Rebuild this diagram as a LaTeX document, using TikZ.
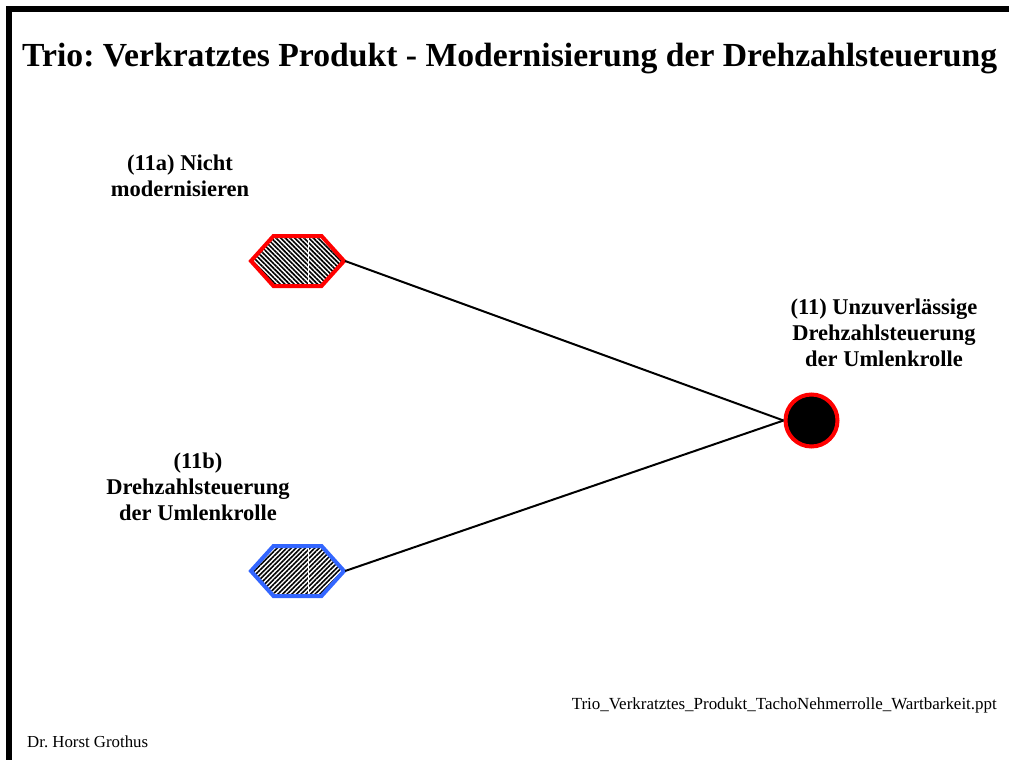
\documentclass[tikz,border=0pt]{standalone}
\usepackage{fontspec}
\setmainfont{Liberation Serif}
\usetikzlibrary{shapes.symbols,patterns.meta}
\frenchspacing
\definecolor{hexblue}{RGB}{51,102,255}
\tikzset{
  hexnode/.style={signal, signal to=west and east, signal pointer angle=96,
    minimum width=93pt, minimum height=50pt, inner sep=0pt, line width=4pt},
  redhex/.style={hexnode, draw=red,
    pattern={Lines[angle=-45,distance=3.3pt,line width=1.6pt]}},
  bluehex/.style={hexnode, draw=hexblue,
    pattern={Lines[angle=45,distance=3.3pt,line width=1.6pt]}},
  seam/.style={white, line width=1pt},
  causenode/.style={circle, draw=red, fill=black, line width=4pt,
    minimum size=52pt, inner sep=0pt},
  link/.style={line width=2pt},
  caption/.style={font=\bfseries\fontsize{22.5}{26}\selectfont,
    align=center, inner sep=0pt},
}
\begin{document}
\begin{tikzpicture}[x=1pt,y=-1pt]
\useasboundingbox (0,0) rectangle (1009,760);
% slide frame along the top and left
\fill (6,6) rectangle (1009,12);
\fill (6,6) rectangle (12,760);
% title and footers
\node[anchor=base west, inner sep=0pt] (title) at (22,67)
  {\resizebox{975pt}{!}{\bfseries\fontsize{33.5}{40}\selectfont Trio: Verkratztes Produkt - Modernisierung der Drehzahlsteuerung}};
\node[anchor=base west, inner sep=0pt] (author) at (27,747)
  {\resizebox{121pt}{!}{Dr. Horst Grothus}};
\node[anchor=base east, inner sep=0pt] (file) at (997,709)
  {\resizebox{425pt}{!}{Trio\_Verkratztes\_Produkt\_TachoNehmerrolle\_Wartbarkeit.ppt}};
% options and the cause
\node[redhex] (opta) at (297.5,261) {};
\node[bluehex] (optb) at (297.5,571) {};
\draw[seam] ([xshift=10.5pt]opta.center) ++(0,-23) -- ++(0,46);
\draw[seam] ([xshift=10.5pt]optb.center) ++(0,-23) -- ++(0,46);
\node[causenode] (cause) at (811.5,420.5) {};
% connectors
\draw[link] (opta.east) -- (cause.west);
\draw[link] (optb.east) -- (cause.west);
% captions (base anchor sits on the last line)
\node[caption, anchor=base] (capa) at (180,196) {(11a) Nicht\\modernisieren};
\node[caption, anchor=base] (capb) at (198,520) {(11b)\\Drehzahlsteuerung\\der Umlenkrolle};
\node[caption, anchor=base] (capc) at (884,366) {(11) Unzuverlässige\\Drehzahlsteuerung\\der Umlenkrolle};
\end{tikzpicture}
\end{document}
